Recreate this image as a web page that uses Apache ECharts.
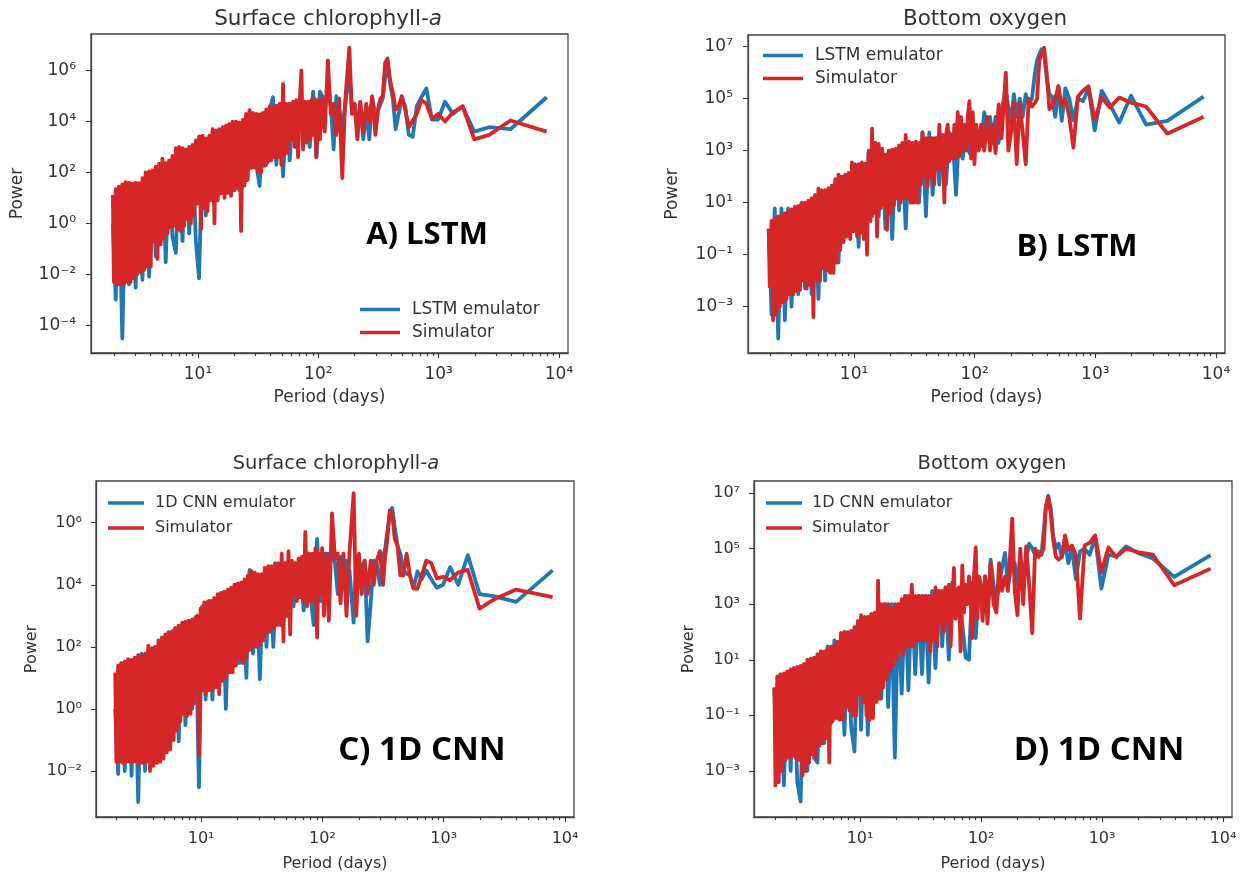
<!DOCTYPE html>
<html><head><meta charset="utf-8">
<style>html,body{margin:0;padding:0;background:#fff}#c{width:1243px;height:879px}</style>
<script src="https://cdn.jsdelivr.net/npm/echarts@6/dist/echarts.min.js"></script>
</head><body><div id="c"></div>
<script>
const periodsFine=[
1.96,2,2.07,2.13,2.2,2.27,2.35,2.42,2.5,2.58,
2.67,2.75,2.84,2.94,3.03,3.13,3.23,3.34,3.45,3.56,
3.67,3.79,3.92,4.04,4.18,4.31,4.45,4.6,4.75,4.9,
5.06,5.22,5.39,5.57,5.75,5.94,6.13,6.33,6.54,6.75,
6.97,7.19,7.43,7.67,7.92,8.18,8.44,8.72,9,9.29,
9.6,9.91,10.2,10.6,10.9,11.3,11.6,12,12.4,12.8,
13.2,13.7,14.1,14.6,15,15.5,16,16.6,17.1,17.7,
18.2,18.8,19.4,20.1,20.7,21.4,22.1,22.8,23.6,24.3,
25.1,25.9,26.8,27.7,28.6,29.5,30.5,31.5,32.5,33.5,
34.6,35.8,36.9,38.1,39.4,40.7,42,43.4,44.8,46.2,
47.7,49.3,50.9,52.5,54.2,56,57.8,59.7,61.6,63.6,
65.7,67.8,70,72.3,74.6,77,79.5,82.1,84.8,87.5,
90.4,93.3,96.3,99.4,103,108,113,120,127,134,
141,149,158,167,181,190,200,211,223,236,
250,265,280,298,316,329,343,359,376,395,
416,439,465,494,527,564,608,658,718,790,
878,988,1129,1317,1580,1975,2633,3950,7900];
const periodsCoarse=[
1.96,2.07,2.2,2.35,2.5,
2.67,2.84,3.03,3.23,3.45,
3.67,3.92,4.18,4.45,4.75,
5.06,5.39,5.75,6.13,6.54,
6.97,7.43,7.92,8.44,9,
9.6,10.2,10.9,11.6,12.4,
13.2,14.1,15,16,17.1,
18.2,19.4,20.7,22.1,23.6,
25.1,26.8,28.6,30.5,32.5,
34.6,36.9,39.4,42,44.8,
47.7,50.9,54.2,57.8,61.6,
65.7,70,74.6,79.5,84.8,
90.4,96.3,103,108,113,120,127,134,
141,149,158,167,181,190,200,211,223,236,
250,265,280,298,316,329,343,359,376,395,
416,439,465,494,527,564,608,658,718,790,
878,988,1129,1317,1580,1975,2633,3950,7900];

const chlLstmSim=[
1.3e1,5e-3,2.2e1,4e-3,2.8e1,4e-3,3.4e1,4e-3,4.2e1,5e-3,
4e1,5e-3,3.6e1,7e-3,4e1,1e-2,3.8e1,1.2e-2,6e1,1.5e-2,
1e2,2e-2,1.1e2,2e-2,1.2e2,2e-1,1.7e2,4e-2,2.2e2,1.5e-1,
3.5e2,2.5e-1,2.3e2,4e-1,3e2,7e-1,4.5e2,8e-1,9e2,6e-1,
1e3,5e-1,9e2,8e-1,8e2,1.5,1e3,1,1.2e3,2,
1.8e3,6,2.6e3,6e-1,2.8e3,4,2.2e3,3,2.8e3,8,
5e3,1,4.5e3,8,5e3,1.5e1,6e3,1e1,7e3,1.6e1,
8e3,1.2e1,1e4,2e1,1e4,2.5e1,9e3,5e-1,1.2e4,3e1,
2e4,5e1,2.8e4,1.5e2,2.2e4,1.6e2,2e4,1e2,1.9e4,1e2,
2.2e4,1.8e2,3e4,2.5e2,4e4,3e2,3.8e4,4e2,4.2e4,4e2,
5e4,2e2,3e5,5e2,5e4,6e2,5e4,2e3,6e4,1e3,
7e4,4e2,6e4,1e6,8e2,6e4,1.5e3,6e4,2e3,7e4,
3e3,8e4,4e2,7e4,2e3,8e4,4e3,2.5e6,2e4,5e4,
3e3,8e4,6e1,6e4,8e6,2e4,5e4,2e3,6e4,4e3,
5e4,1e4,1e5,3e3,4e4,8e4,1e5,2e6,3e6,4e5,
1.4e5,3e4,4e4,1e5,3e4,6e3,1.1e4,2e4,7e4,5e4,
1.3e4,2e4,1e4,2.3e4,4e4,2e3,3e3,1.1e4,4e3];
const chlLstmEmu=[
1e0,1e-3,2e1,3e-5,4e1,
4e-3,3e1,3e-3,3e1,6e-3,
5e1,8e-3,8e1,5e-2,1e2,
2e2,3e-2,2e2,3e-1,7e-2,
3e2,2e-1,5e2,4e-1,5e2,
2e-1,7e-3,1e3,2,1e3,
3e1,2e3,2e1,2e3,5e1,
2e3,3e1,3e3,2e1,3e3,
1e4,2e2,1e4,2e2,3e1,
1e4,2e2,3e4,9e4,2e2,
3e4,7e1,3e4,3e2,3e4,
1e3,3e4,3e3,3e4,1e3,
1.5e5,4e2,1.5e5,1e5,6e4,1e5,4e4,8e2,
1e5,3e4,6e3,4e4,1e6,3e4,5e4,4e3,5e4,2e3,
3e4,2e3,8e4,2e4,3e4,5e4,8e4,5e5,2e6,3e5,
8e4,5e3,2e4,8e4,4e4,3e3,2.5e3,4e4,9e4,2e5,
1.2e4,1.2e4,6e4,2e4,4e4,4e3,6e3,5e3,9e4];

const oxyLstmSim=[
1e0,6e-3,2e0,3e-4,2.5e0,5e-4,3e0,1e-3,3.5e0,1.5e-3,
4e0,2e-3,4.5e0,3e-3,5.5e0,3e-3,6.5e0,4e-3,7.5e0,4.5e-3,
9e0,1e-2,1e1,5e-3,1.2e1,7e-3,1.5e1,4e-4,1.8e1,1e-2,
3.5e1,1e-2,2.8e1,3e-2,3e1,2.5e-2,3.6e1,2e-2,4.5e1,2e-2,
8e1,5e-2,1.2e2,1.5e-1,1e2,3e-1,1.2e2,5e-1,1.4e2,4e-1,
3.5e2,8e-1,2.8e2,5e-1,3e2,7e-1,3.5e2,4e-1,3.2e2,1e-1,
9e2,2e0,7e3,4e0,2e3,5e-1,1.8e3,6e0,1.2e3,8e0,
7e2,9e-1,1e3,4e0,1.1e3,8e0,1.2e3,1.5e1,1.6e3,1e1,
2e3,1.5e1,4e3,1.5e1,2.2e3,1e1,2e3,1e1,2.2e3,1e1,
2e3,5e1,5e3,1e2,3e3,4e1,3e3,1e2,3e3,5e1,
3e3,2e2,1e4,2e2,4e3,1e1,4e3,1e4,4e2,4e3,
5e2,1e4,5e2,3e4,6e2,2e4,1e3,1e4,1e3,2e4,
8e4,5e2,3e4,3e2,1e4,1e3,1e4,1e3,2e4,1e3,
1e4,8e2,6e4,3e3,1e6,1e3,5e3,7e4,3e2,7e4,
5e3,3e2,1e5,5e4,7e4,1e5,3e6,5e6,9e6,1e6,
4e4,5e4,1e5,3e5,5e4,1e5,2e4,1.3e3,1.2e5,2e5,
3e5,1.5e4,1.1e5,4.5e4,1.1e5,7e4,5e4,4.5e3,2e4];
const oxyLstmEmu=[
1e0,5e-4,6e0,6e-5,6e0,
3e-4,6e0,1e-3,7e0,3e-3,
1e1,5e-3,1e1,3e-3,2e1,
2e-3,3e1,1e-2,3e1,4e-2,
6e1,5e-2,1e2,7e-1,1e2,
1e0,3e2,2e-1,3e2,5e-1,
1e3,3e0,2e3,3e0,1e3,
1e0,1e3,4e-1,1e3,5e0,
1e3,1e0,2e3,1e1,2e3,
1e1,5e3,3e0,5e3,2e1,
3e3,5e1,3e3,5e1,5e3,
3e3,2e1,1e4,5e2,1e4,
8e2,4e3,1e3,5e3,1.5e3,3e4,3e3,2e4,
2e3,2e4,2e3,4e4,2e5,5e4,1e4,1.5e5,2e4,1e5,
2e4,1.5e5,6e4,1e5,1e6,3e6,5e6,8e6,5e6,6e5,
1.5e5,1.2e5,2e4,3e5,1.4e4,2.5e5,1e5,1.5e4,1e5,8e4,
2.5e5,6e3,2e5,6e4,1.2e4,1.3e5,1e4,1.4e4,1.2e5];

const chlCnnSim=[
1.5e1,2e-2,2.5e1,2e-2,3e1,1.8e-2,3.4e1,2e-2,4e1,2e-2,
3.8e1,2e-2,4.5e1,2e-2,5.5e1,1.8e-2,5e1,1.8e-2,6e1,2e-2,
1.1e2,1e-2,9e1,1.5e-2,1e2,1.8e-2,1.6e2,2e-2,2e2,2.5e-2,
2.5e2,4e-2,2.8e2,5e-2,3.2e2,1e-1,4e2,2e-1,4.8e2,4e-1,
6e2,7e-1,6.5e2,6e-1,7e2,7e-1,7.5e2,1.5,8.5e2,1e3,
3e-2,1.7e3,4,2.7e3,3,2.8e3,4,3e3,4,3.8e3,
5,5e3,3,5.5e3,8,6e3,1e1,7e3,1.5e1,8e3,
1.5e1,1e4,2.5e1,1.1e4,4e1,1.2e4,3e1,1.5e4,4.5e1,2e4,
8e1,2.8e4,1e2,2.5e4,1e2,2.2e4,1.2e2,2.2e4,1.6e2,3.5e4,
3e2,4e4,3e2,4e4,4e2,5e4,5e2,5e4,5e2,1e5,
1.5e2,5e4,1e3,1.2e5,2.5e2,6e4,5e3,5e4,3e3,7e4,
4e3,8e4,3e3,5e5,2e3,1e5,3e3,1e5,3e3,1.5e5,
2e2,1e5,5e3,1.5e5,1e3,1e5,7e2,2e6,7e4,1e5,
2.5e3,1e5,1e3,1e5,9e6,1e3,1e5,5e3,6e4,5e3,
6e4,1e4,6e4,1.2e5,1e4,8e4,3e5,2.5e6,2e6,3e5,
1.8e5,2e4,2e4,1e5,2e4,7.5e3,7.5e3,2e4,6e4,5e4,
1.6e4,1.8e4,1.4e4,2.5e4,3e4,1.7e3,3.5e3,7e3,4e3];
const chlCnnEmu=[
1e0,8e-3,3e1,1e-2,3e1,
7e-3,4e1,1e-3,6e1,1e-2,
8e1,3e-2,1e2,2e-2,1e2,
4e-2,3e2,2e-1,4e2,9e-2,
5e2,3e-1,7e2,1,9e2,
3e-3,2e3,2,3e3,2,
3e3,5,5e3,1,7e3,
5e1,1e4,3e1,1e4,1e1,
3e4,6e1,2e4,9,2e4,
1e2,3e4,1e2,4e4,1e3,
3e4,1e3,4e4,2e3,3e4,
6e4,1.5e3,1e5,5e3,5e2,
3e5,3e3,1e5,1e4,1e5,8e4,5e4,5e3,
8e4,8e3,6e4,3e4,6e2,7e4,6e4,3e4,6e4,1.5e2,
2.5e3,6e4,5e4,1e4,8e4,1.5e5,5e5,2e6,3e6,7e5,
1.8e5,1e5,3e4,2.3e4,2e4,8e3,2.7e4,1.5e4,2.9e4,1.5e4,
8e3,1e4,3.7e4,1e4,9e4,5e3,4.2e3,2.8e3,2.9e4];

const oxyCnnSim=[
1e0,3e-4,2.5e0,4e-4,3e0,1e-3,3.2e0,2.5e-3,3.8e0,3e-3,
4.5e0,3.5e-3,5e0,3e-3,5.5e0,2.5e-3,6e0,7e-4,7e0,1e-3,
1e1,2e-3,1.1e1,4e-3,1.2e1,3e-3,1.6e1,8e-3,2e1,1e-2,
2e1,1.5e-2,2.5e1,2e-3,3e1,6e-2,3.2e1,8e-2,4.5e1,7e-2,
9e1,7e-2,1e2,2e-1,9e1,1.5e-1,1.1e2,1e-1,1.5e2,1e-1,
2.5e2,6e-1,4e2,3e-1,3.5e2,1e-1,3.5e2,7e-2,4.5e2,8e-2,
5e2,3e-1,7e3,4e-1,1e3,1e0,1e3,2e0,1e3,4e0,
7e2,6e0,1e3,1e1,1e3,2e1,1.5e3,1.5e1,2e3,3e1,
2e3,3e1,5e3,3e1,2e3,5e1,2e3,5e1,2e3,5e1,
2e3,5e1,2e3,2e1,2e3,5e1,4e3,3e1,3e3,2e2,
3e3,1e2,4e3,2e2,5e3,3e1,1e3,2e4,3e2,3e3,
4e3,2e1,2.5e4,5e2,5e3,1e3,1e4,2e3,6e1,1e4,
1.1e5,3e2,1e4,5e3,2.5e2,1e4,2e2,3e4,1e3,5e2,
3e4,3e3,1e4,3e3,1.2e6,3e3,4e2,1e5,1e3,1.2e5,
5e3,9e1,1e5,5e4,7e4,1e5,3e6,7e6,2e6,2e5,
5e4,4e4,5e4,3e5,9e4,1.3e5,6e4,3e2,1.3e5,1.6e5,
3e5,1.4e4,1.1e5,5e4,1e5,7.5e4,6e4,4.8e3,1.9e4];
const oxyCnnEmu=[
1e0,3e-3,3e0,3e-4,3e0,
1e-3,5e0,4e-4,8e-5,7e0,
1e-3,1e1,3e-3,2e-3,2e1,
1e-2,3e1,5e-2,5e1,8e-2,
9e1,2e-2,1e2,4e-2,5e-3,
2e2,3e-2,3e2,2e-2,4e2,
5e-1,5e2,4e-1,1e3,2e-1,
1e3,3e-3,1e3,6e-1,2e3,
8e-1,3e3,3e0,2e3,3e0,
2e3,1.5e0,3e3,5e0,3e3,
3e1,4e3,1e1,6e3,3e2,
4e3,2e2,1.2e1,1e1,6e3,
6e1,6e3,6e2,1e4,5e2,4e4,5e3,1e3,
5e3,2e4,7e4,5e3,3e4,3e4,5e3,5e4,1e4,4e4,
1.5e5,1e5,6e4,8e4,6e4,4e5,3e6,8e6,3e6,3e5,
1e5,1.5e5,5e4,1.5e5,3e4,1e5,8e3,8e4,1e5,6e4,
2.6e5,3.6e3,6e4,5.2e4,1.2e5,7e4,4.4e4,9.5e3,5.8e4];

const xMajorTicks=[10,100,1000,10000];
const xMinorTicks=[2,3,4,5,6,7,8,9,20,30,40,50,60,70,80,90,200,300,400,500,600,700,800,900,2000,3000,4000,5000,6000,7000,8000,9000];
const yTicksChlLstm=[1e-4,1e-2,1,1e2,1e4,1e6];
const yTicksOxy=[1e-3,1e-1,1e1,1e3,1e5,1e7];
const yTicksChlCnn=[1e-2,1,1e2,1e4,1e6];
const emuNames=['LSTM emulator','1D CNN emulator'];
const simName='Simulator';
const BLUE='#1f77b4',RED='#d62728',INK='#333333',FONT='"DejaVu Sans"';

const panels=[
 {title:'Surface chlorophyll-{i|a}',tag:'A) LSTM',tagFs:31,emu:chlLstmEmu,sim:chlLstmSim,emuName:emuNames[0],yTicks:yTicksChlLstm,
  box:[91,34,477,319],xr:[1.29,11880],yr:[8.1e-6,2.75e7],tx:323,ty:3,tagx:422,tagy:215,leg:[360,301],fs:17,nameGapX:36,nameGapY:65,ts:21.5,mx:13,my:15,legGap:6,legPad:7},
 {title:'Bottom oxygen',tag:'B) LSTM',tagFs:31,emu:oxyLstmEmu,sim:oxyLstmSim,emuName:emuNames[0],yTicks:yTicksOxy,
  box:[748,35,477,318],xr:[1.32,11880],yr:[1.66e-5,2.8e7],tx:980,ty:3,tagx:1072,tagy:227,leg:[763,47],fs:17,nameGapX:36,nameGapY:67,ts:21.5,mx:13,my:15,legGap:6,legPad:7},
 {title:'Surface chlorophyll-{i|a}',tag:'C) 1D CNN',tagFs:33,emu:chlCnnEmu,sim:chlCnnSim,emuName:emuNames[1],yTicks:yTicksChlCnn,
  box:[96,481,478,336],xr:[1.36,11860],yr:[3.3e-4,2.2e7],tx:331,ty:449,tagx:417,tagy:729,leg:[108,495],fs:16,nameGapX:39,nameGapY:56,ts:19.5,mx:14,my:14,legGap:9,legPad:6},
 {title:'Bottom oxygen',tag:'D) 1D CNN',tagFs:33,emu:oxyCnnEmu,sim:oxyCnnSim,emuName:emuNames[1],yTicks:yTicksOxy,
  box:[754,481,478,336],xr:[1.33,11860],yr:[2.2e-5,2.7e7],tx:987,ty:449,tagx:1094,tagy:729,leg:[766,495],fs:16,nameGapX:39,nameGapY:57,ts:19.5,mx:14,my:14,legGap:9,legPad:5}
];
const SUP={'0':'⁰','1':'¹','2':'²','3':'³','4':'⁴','5':'⁵','6':'⁶','7':'⁷','8':'⁸','9':'⁹','-':'⁻'};
const pow10=v=>'10'+String(Math.round(Math.log10(v))).replace(/./g,c=>SUP[c]);
const zip=(a,b,n)=>{if(a.length!==b.length)throw new Error('length mismatch '+n+' '+a.length+' vs '+b.length);return a.map((x,i)=>[x,b[i]]);};

const option={animation:false,backgroundColor:'#fff',grid:[],xAxis:[],yAxis:[],series:[],legend:[],title:[]};
panels.forEach((p,i)=>{
 option.grid.push({left:p.box[0],top:p.box[1],width:p.box[2],height:p.box[3],show:true,borderColor:'#444',borderWidth:1.3,containLabel:false});
 option.xAxis.push({type:'log',gridIndex:i,position:'bottom',min:p.xr[0],max:p.xr[1],name:'Period (days)',nameLocation:'middle',nameGap:p.nameGapX,
   nameTextStyle:{fontFamily:FONT,fontSize:p.fs,color:INK},
   axisLine:{onZero:false,lineStyle:{color:'#444',width:1.3}},splitLine:{show:false},minorTick:{show:false},axisTick:{show:false},
   axisLabel:{fontFamily:FONT,fontSize:p.fs,color:INK,margin:p.mx,customValues:xMajorTicks,formatter:pow10}});
 option.yAxis.push({type:'log',gridIndex:i,position:'left',min:p.yr[0],max:p.yr[1],name:'Power',nameLocation:'middle',nameGap:p.nameGapY,
   nameTextStyle:{fontFamily:FONT,fontSize:p.fs,color:INK},
   axisLine:{onZero:false,lineStyle:{color:'#444',width:1.3}},splitLine:{show:false},minorTick:{show:false},axisTick:{show:false},
   axisLabel:{fontFamily:FONT,fontSize:p.fs,color:INK,margin:p.my,customValues:p.yTicks,formatter:pow10}});
 option.series.push({name:p.emuName,type:'line',xAxisIndex:i,yAxisIndex:i,data:zip(periodsCoarse,p.emu,p.tag+' emu'),showSymbol:false,symbol:'none',lineStyle:{color:BLUE,width:3.8,join:'round'},itemStyle:{color:BLUE},z:2});
 option.series.push({name:simName,type:'line',xAxisIndex:i,yAxisIndex:i,data:zip(periodsFine,p.sim,p.tag+' sim'),showSymbol:false,symbol:'none',lineStyle:{color:RED,width:3.8,join:'round'},itemStyle:{color:RED},z:3});
 option.legend.push({orient:'vertical',left:p.leg[0],top:p.leg[1],icon:'rect',itemWidth:i<2?40:36,itemHeight:3.5,itemGap:p.legGap,padding:0,data:[p.emuName,simName],
   selectedMode:false,textStyle:{fontFamily:FONT,fontSize:p.fs,color:INK,padding:[0,0,0,p.legPad]}});
 option.title.push({text:p.title,left:p.tx,top:p.ty,textAlign:'center',textStyle:{fontFamily:FONT,fontWeight:'normal',fontSize:p.ts,color:INK,rich:{i:{fontFamily:FONT,fontStyle:'italic',fontSize:p.ts,color:INK}}}});
 option.title.push({text:p.tag,left:p.tagx,top:p.tagy,textAlign:'center',textStyle:{fontFamily:'"Open Sans"',fontWeight:700,fontSize:p.tagFs,color:'#000'}});
});
// extra axes in every grid carry the tick marks: major and minor on x, major on y
const tickAxis=(p,i,range,values,len,pos)=>({type:'log',gridIndex:i,position:pos,min:range[0],max:range[1],axisLine:{show:false,onZero:false},splitLine:{show:false},minorTick:{show:false},
   axisLabel:{show:false},axisTick:{show:true,length:len,lineStyle:{color:'#333',width:1.1},customValues:values}});
panels.forEach((p,i)=>{
 option.xAxis.push(tickAxis(p,i,p.xr,xMinorTicks,3,'bottom'));
 option.xAxis.push(tickAxis(p,i,p.xr,xMajorTicks,5,'bottom'));
 option.yAxis.push(tickAxis(p,i,p.yr,p.yTicks,5,'left'));
});
const chart=echarts.init(document.getElementById('c'),null,{renderer:'canvas'});
chart.setOption(option);
</script></body></html>
